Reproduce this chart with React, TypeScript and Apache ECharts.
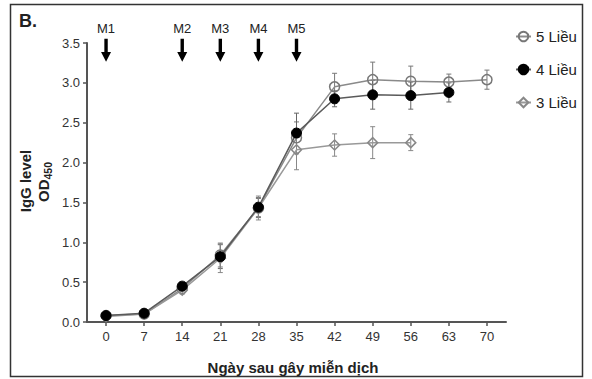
import React, { useEffect, useRef } from "react";
import * as echarts from "echarts";

const DAYS = [0, 7, 14, 21, 28, 35, 42, 49, 56, 63, 70];
const X_TICKS = [0, 7, 14, 21, 28, 35, 42, 49, 56, 63, 70];

const SERIES_NAMES = ["5 Liều", "4 Liều", "3 Liều"];
const DOSE5 = [0.08, 0.1, 0.42, 0.84, 1.43, 2.31, 2.95, 3.04, 3.02, 3.01, 3.04];
const DOSE5_ERR = [0.01, 0.01, 0.03, 0.15, 0.12, 0.2, 0.17, 0.22, 0.19, 0.1, 0.12];
const DOSE4 = [0.08, 0.11, 0.45, 0.82, 1.44, 2.37, 2.8, 2.85, 2.84, 2.88];
const DOSE4_ERR = [0.01, 0.01, 0.03, 0.15, 0.12, 0.25, 0.1, 0.18, 0.17, 0.12];
const DOSE3 = [0.07, 0.1, 0.4, 0.8, 1.43, 2.16, 2.22, 2.25, 2.25];
const DOSE3_ERR = [0.01, 0.01, 0.05, 0.18, 0.15, 0.25, 0.14, 0.2, 0.1];

const INJECTION_DAYS = [0, 14, 21, 28, 35];
const INJECTION_LABELS = ["M1", "M2", "M3", "M4", "M5"];
const ARROW_LEVEL = 3.41;

const FONT = "'Liberation Sans', Arial, Helvetica, sans-serif";
const ARROW_PATH = "path://M3.3,0 L6.7,0 L6.7,14 L10,14 L5,24 L0,14 L3.3,14 Z";

function pts(vals: number[]) {
  return vals.map((v, i) => [DAYS[i], v]);
}
function errPts(vals: number[], errs: number[]) {
  return vals.map((v, i) => [DAYS[i], v, errs[i]]);
}

function errorSeries(vals: number[], errs: number[], color: string) {
  return {
    type: "custom",
    silent: true,
    z: 3,
    data: errPts(vals, errs),
    encode: { x: 0, y: 1 },
    renderItem: (params: any, api: any) => {
      const x = api.value(0);
      const y = api.value(1);
      const e = api.value(2);
      const top = api.coord([x, y + e]);
      const bot = api.coord([x, y - e]);
      const w = 2.5;
      const st = { stroke: color, lineWidth: 1 };
      return {
        type: "group",
        children: [
          { type: "line", shape: { x1: top[0], y1: top[1], x2: bot[0], y2: bot[1] }, style: st },
          { type: "line", shape: { x1: top[0] - w, y1: top[1], x2: top[0] + w, y2: top[1] }, style: st },
          { type: "line", shape: { x1: bot[0] - w, y1: bot[1], x2: bot[0] + w, y2: bot[1] }, style: st },
        ],
      };
    },
  };
}

export default function App() {
  const ref = useRef<HTMLDivElement>(null);
  useEffect(() => {
    const chart = echarts.init(ref.current!, undefined, { renderer: "svg" });
    const option: any = {
      animation: false,
      backgroundColor: "#fff",
      textStyle: { fontFamily: FONT },
      grid: { left: 87, right: 86, top: 43, bottom: 57 },
      xAxis: {
        type: "value",
        min: -3.5,
        max: 73.5,
        axisLine: { onZero: false, lineStyle: { color: "#555", width: 2 } },
        axisTick: { show: true, customValues: X_TICKS, length: 4, lineStyle: { color: "#555", width: 1.5 } },
        axisLabel: { customValues: X_TICKS, color: "#333", fontSize: 13, margin: 8, fontFamily: FONT },
        splitLine: { show: false },
      },
      yAxis: {
        type: "value",
        min: 0,
        max: 3.5,
        interval: 0.5,
        axisLine: { show: true, onZero: false, lineStyle: { color: "#555", width: 2 } },
        axisTick: { show: true, length: 4, lineStyle: { color: "#555", width: 1.5 } },
        axisLabel: { color: "#333", fontSize: 13, margin: 7, fontFamily: FONT, formatter: (v: number) => v.toFixed(1) },
        splitLine: { show: false },
      },
      legend: {
        orient: "vertical",
        left: 510,
        top: 24,
        itemWidth: 15,
        itemHeight: 12,
        itemGap: 18,
        textStyle: { fontSize: 15, color: "#222", fontFamily: FONT },
        data: SERIES_NAMES,
      },
      graphic: [
        {
          type: "rect",
          shape: { x: 10.5, y: 4.5, width: 572, height: 372 },
          style: { fill: "none", stroke: "#333", lineWidth: 1.5 },
          silent: true,
        },
        {
          type: "text",
          left: 19,
          top: 12,
          style: { text: "B.", fontSize: 18, fontWeight: "bold", fill: "#222", fontFamily: FONT },
        },
        {
          type: "text",
          x: 293,
          y: 367,
          style: {
            text: "Ngày sau gây miễn dịch",
            fontSize: 15,
            fontWeight: "bold",
            fill: "#222",
            fontFamily: FONT,
            align: "center",
            verticalAlign: "middle",
          },
        },
        {
          type: "group",
          x: 36,
          y: 181,
          rotation: Math.PI / 2,
          children: [
            {
              type: "text",
              x: 0,
              y: -10.5,
              style: {
                text: "IgG level",
                fontSize: 15,
                fontWeight: "bold",
                fill: "#222",
                fontFamily: FONT,
                align: "center",
                verticalAlign: "middle",
              },
            },
            {
              type: "text",
              x: -21,
              y: 7,
              style: {
                text: "OD",
                fontSize: 15,
                fontWeight: "bold",
                fill: "#222",
                fontFamily: FONT,
                align: "left",
                verticalAlign: "middle",
              },
            },
            {
              type: "text",
              x: 1.5,
              y: 12,
              style: {
                text: "450",
                fontSize: 10.5,
                fontWeight: "bold",
                fill: "#222",
                fontFamily: FONT,
                align: "left",
                verticalAlign: "middle",
              },
            },
          ],
        },
      ],
      series: [
        {
          name: SERIES_NAMES[0],
          type: "line",
          data: pts(DOSE5),
          symbol: "circle",
          symbolSize: 10,
          z: 4,
          lineStyle: { color: "#8a8a8a", width: 1.5 },
          itemStyle: { color: "rgba(255,255,255,0)", borderColor: "#777", borderWidth: 1.5 },
        },
        {
          name: SERIES_NAMES[1],
          type: "line",
          data: pts(DOSE4),
          symbol: "circle",
          symbolSize: 10,
          z: 5,
          lineStyle: { color: "#5a5a5a", width: 1.5 },
          itemStyle: { color: "#000", borderColor: "#000", borderWidth: 1 },
        },
        {
          name: SERIES_NAMES[2],
          type: "line",
          data: pts(DOSE3),
          symbol: "diamond",
          symbolSize: 10,
          z: 4,
          lineStyle: { color: "#999", width: 1.5 },
          itemStyle: { color: "rgba(255,255,255,0)", borderColor: "#888", borderWidth: 1.5 },
        },
        errorSeries(DOSE5, DOSE5_ERR, "#777"),
        errorSeries(DOSE4, DOSE4_ERR, "#666"),
        errorSeries(DOSE3, DOSE3_ERR, "#888"),
        {
          type: "scatter",
          silent: true,
          clip: false,
          symbol: ARROW_PATH,
          symbolSize: [10, 23],
          itemStyle: { color: "#000", opacity: 1 },
          data: INJECTION_DAYS.map((d, i) => ({ value: [d, ARROW_LEVEL], name: INJECTION_LABELS[i] })),
          label: {
            show: true,
            position: "top",
            distance: 4,
            formatter: "{b}",
            fontSize: 13,
            color: "#222",
            fontFamily: FONT,
          },
        },
      ],
    };
    chart.setOption(option);
    return () => chart.dispose();
  }, []);
  return (
    <div
      ref={ref}
      style={{ position: "absolute", left: 0, top: 0, width: 592, height: 379 }}
    />
  );
}
